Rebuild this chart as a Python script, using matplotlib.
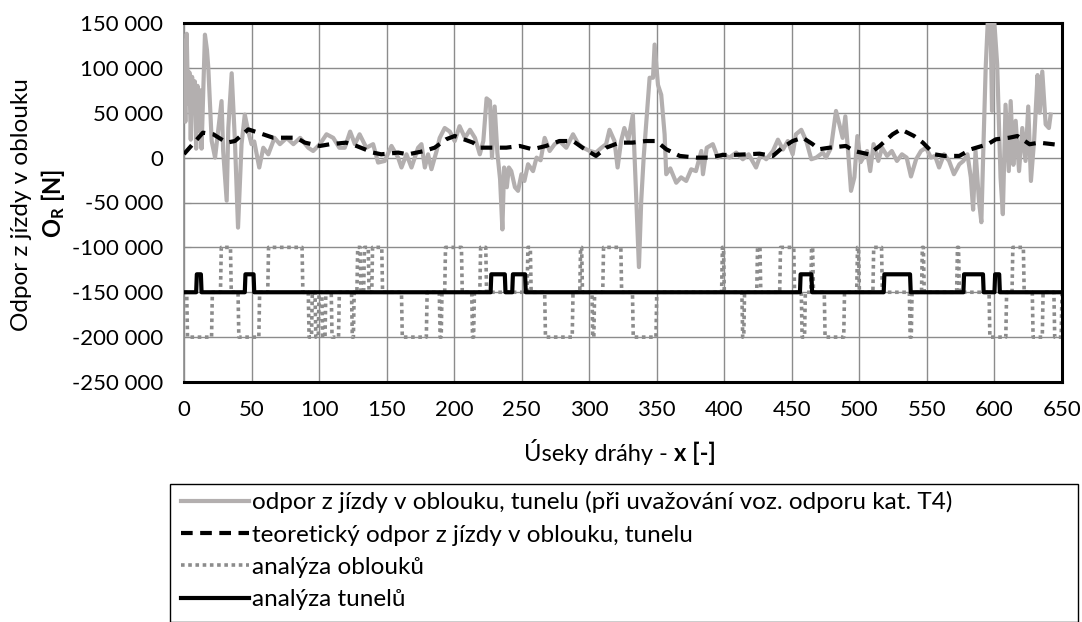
import matplotlib
matplotlib.use("Agg")
import matplotlib.pyplot as plt
from matplotlib.ticker import FuncFormatter, MultipleLocator
from matplotlib.patches import Rectangle

plt.rcParams['font.family'] = ['Lato', 'DejaVu Sans']
plt.rcParams['mathtext.fontset'] = 'custom'
plt.rcParams['mathtext.rm'] = 'Lato'
plt.rcParams['mathtext.bf'] = 'Lato:bold'

# ---- data ----
gray_x = [0, 1, 2, 3, 4, 5, 6, 7, 8, 9, 10, 11, 12, 13, 14, 15.5, 17, 18, 20.5, 23,
          27.8, 29, 31.6, 32.8, 35.3, 37.7, 40, 42.6, 45, 47.6, 50, 52, 55.7, 58.7, 62.4,
          67, 71, 76, 81, 86, 92, 95.6, 100.6, 105.5, 110.5, 115, 119, 123, 126.5, 130,
          135, 140, 143.7, 148.6, 153.6, 158.5, 161, 164.7, 168.4, 173.3, 175.8, 178.3,
          180.7, 183.2, 187, 189.3, 193, 196.8, 200.4, 204, 208, 211.7, 215.4, 219, 221.6,
          224, 226.5, 228, 230, 232, 234, 235.7, 237, 239, 240.5, 242.3, 245, 247.3, 249.8,
          252, 254.7, 258.4, 261, 264, 267, 270.7, 274.4, 278, 283, 288, 292, 295.5, 300.4,
          305, 309, 312.5, 315, 318.7, 321, 323.6, 326, 329, 332.3, 334.3, 336.8, 338.5,
          340.3, 342.3, 344.7, 347.2, 348.4, 350.9, 353.3, 355.8, 357, 360, 364.4, 368,
          371.8, 375.5, 379, 383, 384.2, 387, 391.5, 395.2, 399, 403.8, 408.8, 413.7, 418,
          423.5, 427, 431, 436, 439.7, 443.4, 447, 450.6, 453, 457, 460.7, 464.4, 468, 473,
          475.3, 479, 482.7, 485.2, 487.6, 489.6, 492, 493.8, 496.3, 498.5, 501, 505.7, 508,
          510.5, 514, 516.8, 520.5, 524, 527.8, 531.5, 535, 538.2, 542, 545.6, 549.3, 553,
          556, 559, 562.7, 566.4, 570, 574, 577, 580, 582.5, 584.2, 586, 588.5, 590.3, 591.8,
          593.5, 595.3, 597, 598.2, 599.5, 602, 604.5, 606.2, 608.2, 610.6, 612, 614, 615.7,
          618.2, 620.6, 623, 625, 627, 629.4, 631.9, 633.5, 635.4, 637.9, 640.3, 641.6]
gray_y = [130000, 40000, 138000, 60000, 95000, 20000, 90000, 50000, 85000, 10000, 80000,
          30000, 75000, 10000, 60000, 137000, 120000, 100000, 18500, 0,
          63000, 7400, -48000, 33000, 94000, 18500, -78000, 15000, 48000, 29000, 15000,
          18000, -11000, 11000, 3700, 22000, 15000, 22000, 15000, 22000, 11000, 7400, 15000,
          26000, 22000, 11000, 11000, 29000, 15000, 26000, 11000, 15000, -5500, -3700,
          13000, 0, -11000, 3700, -11000, 11000, 15000, -11000, 3700, -12900, 7400, 22000,
          33000, 29000, 18500, 35000, 22000, 31000, 22000, 3700, 18500, 66000, 63000, 0,
          57000, 5000, -24000, -80000, -11000, -33000, -11000, -15000, -33000, -37000,
          -18500, -26000, -7400, -15000, 0, -3000, 22000, 7400, 15000, 18500, 11000, 26000,
          15000, 11000, 7400, 5600, 11000, 15000, 31000, 18500, -11000, 18500, 33000, 20000,
          48000, -26000, -122000, -48000, 0, 41000, 89000, 89000, 126000, 81000, 70000,
          26000, -18500, -12000, -28000, -22000, -26000, -13000, -15000, 7400, -18500, 11000,
          15000, 0, 3700, 0, 5600, -1800, 3700, -11000, 3700, -1800, 7400, 20000, 9000,
          18500, 3700, 26000, 31000, 18500, -1800, 0, 5600, 0, 11000, 52000, 37000, 22000,
          46000, 0, -37000, -22000, 24000, -5000, 7400, -15000, 15000, -3700, 11000, 1900,
          7400, -3700, 3700, 0, -21000, -1800, 7400, 11000, 0, 2000, -11000, 3700, -3700,
          -18500, -7400, -3700, 3700, -22000, -58000, 7400, -48000, -72000, 11000, 100000,
          160000, 160000, 52000, 160000, 104000, -22000, -63000, 59000, -15000, 63000, -8000,
          41000, -15000, 33000, -3700, 57000, -26000, 20000, 92000, 50000, 96000, 37000,
          33000, 48000]

theo_x = [0, 14, 21.7, 31.6, 37.7, 47.6, 55, 66, 73.5, 83, 89.5, 100.6, 108, 120, 127.7,
          140, 146, 158.5, 166, 178, 185.6, 194, 200.4, 214, 219, 231, 238.6, 248.5, 258,
          268, 278, 288, 295, 305, 312.5, 322.5, 332, 342, 349.5, 357, 367, 379, 388, 399,
          406, 417, 426, 436, 443, 450.6, 458, 465.5, 470, 478, 490, 496, 507, 515, 524.6,
          530.7, 540.5, 547, 555.5, 563, 574, 582.6, 595, 601, 611, 617, 626, 633, 648]
theo_y = [4000, 27800, 26000, 16700, 18500, 31500, 27800, 22200, 22200, 22200, 16700,
          13000, 14900, 16700, 13000, 5600, 3700, 5600, 3700, 7400, 11100, 20400, 24100,
          16700, 11100, 11100, 11100, 13000, 9300, 13000, 18500, 18500, 11100, 1900, 11100,
          16700, 16700, 18500, 18500, 9300, 1900, 0, 0, 3000, 3000, 3700, 4400, 1900, 11100,
          18500, 22200, 14900, 9300, 11100, 13000, 7400, 3700, 13000, 26000, 31500, 24100,
          16700, 3700, 1900, 1900, 9300, 14900, 20400, 22200, 24100, 14900, 16700, 14100]

# curve analysis: segments (start, end, level) on a -150 000 baseline
curve_start = [2, 27, 40, 62, 92, 97, 102, 109, 124, 128, 133, 139, 161, 189, 193, 213,
               219, 254, 267, 293, 302, 310, 332, 398, 413, 424, 441, 457, 464, 474, 498,
               510, 537, 546, 572, 596, 613, 628, 644]
curve_end = [21, 35, 56, 88, 95, 100, 105, 115, 126, 131, 137, 147, 180, 191, 206, 215,
             224, 257, 288, 295, 304, 324, 350, 400, 415, 427, 452, 460, 466, 489, 500,
             517, 539, 548, 574, 609, 622, 636, 650]
curve_level = [-200000, -100000, -200000, -100000, -200000, -200000, -200000, -200000,
               -200000, -100000, -100000, -100000, -200000, -200000, -100000, -200000,
               -100000, -100000, -200000, -100000, -200000, -100000, -200000, -100000,
               -200000, -100000, -100000, -200000, -100000, -200000, -100000, -100000,
               -200000, -100000, -100000, -200000, -100000, -200000, -200000]
curve_base = -150000

tunnel_start = [9, 45, 227, 243, 456, 518, 577, 600]
tunnel_end = [13, 52, 238, 253, 465, 538, 592, 604]
tunnel_level = -130000
tunnel_base = -150000

labels = ["odpor z jízdy v oblouku, tunelu (při uvažování voz. odporu kat. T4)",
          "teoretický odpor z jízdy v oblouku, tunelu",
          "analýza oblouků",
          "analýza tunelů"]


def step_path(starts, ends, levels, base, ramp):
    xs, ys = [0], [base]
    for s, e, lv in zip(starts, ends, levels):
        xs += [s, s + ramp, e - ramp, e]
        ys += [base, lv, lv, base]
    xs.append(650)
    ys.append(base)
    return xs, ys


curve_x, curve_y = step_path(curve_start, curve_end, curve_level, curve_base, 0.6)
tunnel_x, tunnel_y = step_path(tunnel_start, tunnel_end,
                               [tunnel_level] * len(tunnel_start), tunnel_base, 0.5)

# ---- figure ----
W, H = 1082, 622
fig = plt.figure(figsize=(W / 100, H / 100), dpi=100)
ax = fig.add_axes([184 / W, 1 - 382 / H, (1062 - 184) / W, (382 - 23) / H])

l1, = ax.plot(gray_x, gray_y, color='#B3AFAF', lw=3.0, zorder=3, solid_joinstyle='round')
l3, = ax.plot(curve_x, curve_y, color='#8C8C8C', lw=2.6, ls=(0, (1, 1)), zorder=2)
l4, = ax.plot(tunnel_x, tunnel_y, color='black', lw=3.0, zorder=4)
l2, = ax.plot(theo_x, theo_y, color='black', lw=3.0, ls=(0, (2.8, 1.8)), zorder=5)

ax.set_xlim(0, 650)
ax.set_ylim(-250000, 150000)
ax.xaxis.set_major_locator(MultipleLocator(50))
ax.yaxis.set_major_locator(MultipleLocator(50000))
ax.yaxis.set_major_formatter(FuncFormatter(
    lambda v, p: ('-' if v < 0 else '') + f"{abs(int(round(v))):,}".replace(',', ' ')))
ax.grid(True, color='#8C8C8C', lw=1.0)
ax.set_axisbelow(True)
for s in ['top', 'right', 'bottom']:
    ax.spines[s].set_color('black')
    ax.spines[s].set_linewidth(2.2)
ax.spines['left'].set_color('#8C8C8C')
ax.spines['left'].set_linewidth(1.2)
ax.tick_params(axis='y', direction='in', length=5, color='#8C8C8C', labelsize=16, pad=15)
ax.tick_params(axis='x', length=0, labelsize=16, pad=13)

# axis labels
fig.text(22 / W, 1 - 205 / H, "Odpor z jízdy v oblouku", rotation=90, ha='center',
         va='center', fontsize=17.5)
fig.text(53 / W, 1 - 203 / H, r"$\mathbf{O_R}$ [N]", rotation=90, ha='center',
         va='center', fontsize=17, fontweight='bold')
t1 = fig.text(524 / W, 1 - 452 / H, "Úseky dráhy - ", ha='left', va='center', fontsize=17)
ax.annotate("x [-]", xy=(1, 0), xycoords=t1, ha='left', va='bottom', fontsize=17,
            fontweight='bold')

# legend box and entries
fig.add_artist(Rectangle((170 / W, 0), (1078 - 170) / W, 1 - 484 / H,
                         transform=fig.transFigure, fill=False, edgecolor='black',
                         lw=1.0, clip_on=False))
leg = fig.legend([l1, l2, l3, l4], labels, loc='upper left',
                 bbox_to_anchor=(181 / W, 1 - 491 / H),
                 frameon=False, fontsize=17.5, handlelength=2.8, handletextpad=0.12,
                 labelspacing=0.47, borderpad=0, borderaxespad=0)

fig.savefig("out.png", dpi=100)
